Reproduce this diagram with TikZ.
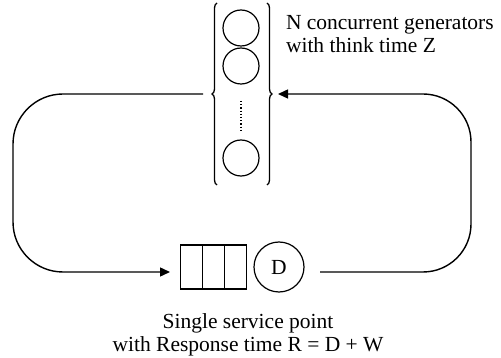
\documentclass[tikz,border=0pt]{standalone}
\usepackage{fontspec}
\setmainfont{Liberation Serif}
\usetikzlibrary{arrows.meta,decorations.pathreplacing}
\begin{document}
\begin{tikzpicture}[x=1pt,y=-1pt,
  every node/.style={inner sep=0pt,outer sep=0pt},
  gen/.style={draw,circle,minimum size=36pt,line width=1.2pt},
  server/.style={draw,circle,minimum size=50pt,line width=1.2pt},
  cell/.style={draw,rectangle,minimum width=22pt,minimum height=44pt,line width=1.2pt},
  flow/.style={line width=1.4pt,rounded corners=50pt},
  tip/.style={-{Triangle[length=10pt,width=9pt]}},
  bracket/.style={line width=1.3pt,decorate,decoration={brace,amplitude=5pt}},
  label/.style={font=\fontsize{21.5}{23.5}\selectfont}
]
\useasboundingbox (0,0) rectangle (501,358);

% think-time generators
\node[gen] (g1) at (241,28) {};
\node[gen] (g2) at (241,66) {};
\node[gen] (g3) at (241,158) {};
\draw[line width=1.2pt,dotted] (241,101) -- (241,131);

% braces around the generators
\draw[bracket] (217,185) -- (217,3);
\draw[bracket] (267,3) -- (267,185);
\coordinate (bl) at (203,94);
\coordinate (br) at (278,94);

% queue and server
\node[cell] (q1) at (191.5,267) {};
\node[cell] (q2) at (213.5,267) {};
\node[cell] (q3) at (235.5,267) {};
\node[server] (d) at (279,267) {\fontsize{21.5}{23.5}\selectfont D};
\coordinate (qin) at (170,272);
\coordinate (dout) at (320,272);

% closed loop
\draw[flow,tip] (bl) -- (13,94) -- (13,272) -- (qin);
\draw[flow,tip,rounded corners=48pt] (dout) -- (471,272) -- (471,94) -- (br);

% labels (base anchor sits on the last line)
\node[label,anchor=base west,align=left] (lg) at (286,53)
  {N concurrent generators\\with think time Z};
\node[label,anchor=base,align=center] (ls) at (248,352)
  {Single service point\\with Response time R = D + W};
\end{tikzpicture}
\end{document}
